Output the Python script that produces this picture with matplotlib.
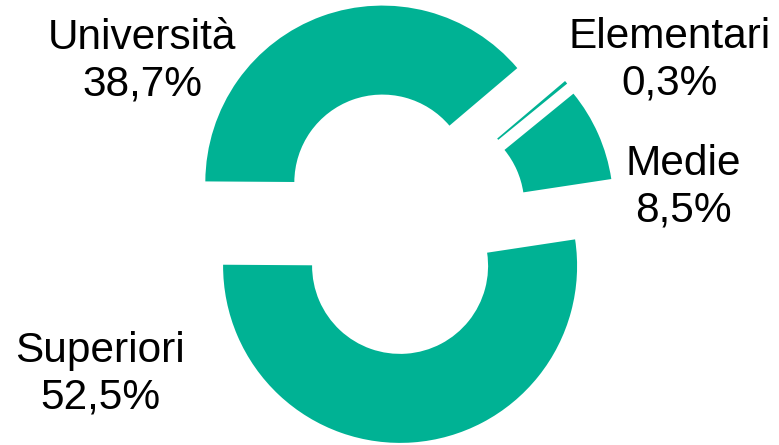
import matplotlib.pyplot as plt

# --- dati ---
categorie = ["Elementari", "Medie", "Superiori", "Università"]
percentuali = [0.3, 8.5, 52.5, 38.7]
etichette = ["Elementari\n0,3%", "Medie\n8,5%", "Superiori\n52,5%", "Università\n38,7%"]

COLORE = "#00B294"
W, H = 779, 445

fig = plt.figure(figsize=(W / 100, H / 100), dpi=100)
ax = fig.add_axes([0, 0, 1, 1])

# lavoro in pixel: y verso l'alto
raggio = 177
spessore = 89
centro = (397, H - 223)

ax.pie(percentuali, radius=raggio, center=centro, startangle=40.3,
       counterclock=False, explode=[43] * 4, colors=[COLORE] * 4,
       wedgeprops=dict(width=spessore, linewidth=0))

ax.set_xlim(0, W)
ax.set_ylim(0, H)
ax.set_aspect("equal")
ax.axis("off")

# posizioni delle etichette (pixel)
pos = {
    "Elementari": (670, 60),
    "Medie": (683, 187),
    "Superiori": (100, 374),
    "Università": (142, 61),
}
for cat, txt in zip(categorie, etichette):
    x, y = pos[cat]
    ax.text(x, H - y, txt, ha="center", va="center", fontsize=30.5,
            family="Liberation Sans", linespacing=1.2, color="black")

plt.savefig("out.png", dpi=100)
plt.close()
